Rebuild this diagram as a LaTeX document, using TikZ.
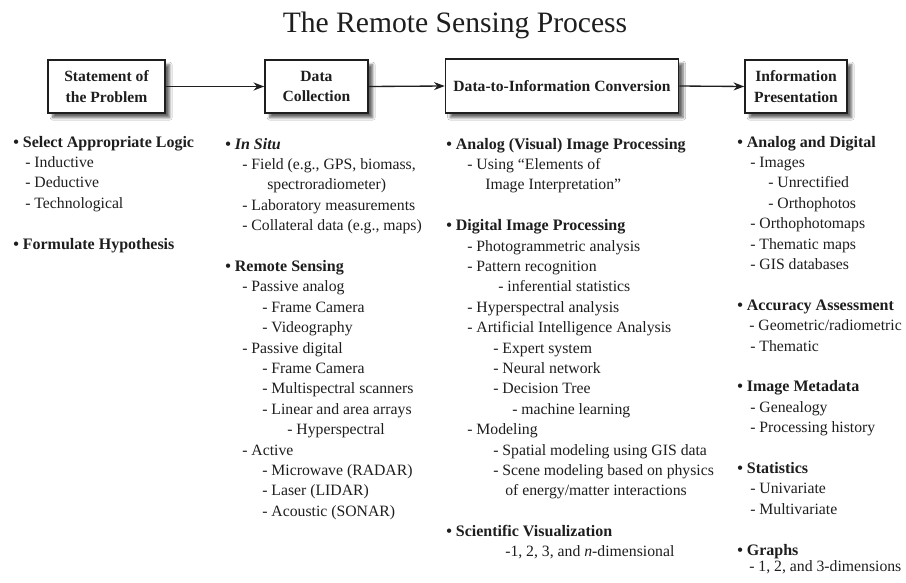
\documentclass[tikz,border=0pt]{standalone}
\usepackage{fontspec}
\setmainfont{Liberation Serif}
\usetikzlibrary{arrows.meta,positioning,shadows.blur}

\definecolor{ink}{HTML}{1E1E1E}

\tikzset{
  stage/.style={draw=ink, line width=1.2pt, fill=white, align=center, text=ink,
    font=\fontsize{11.7}{15.5}\selectfont\bfseries,
    blur shadow={shadow xshift=3.5pt, shadow yshift=-3.5pt, shadow blur steps=8, shadow opacity=60}},
  flow/.style={-{Stealth[length=8pt,width=6pt]}, line width=1pt, ink},
  head/.style={anchor=base west, inner sep=0pt, text=ink, font=\fontsize{12}{15.3}\selectfont\bfseries},
  item/.style={anchor=base west, inner sep=0pt, text=ink, font=\fontsize{11.8}{15.3}\selectfont},
}

\begin{document}
\begin{tikzpicture}[x=0.75pt, y=-0.75pt]

    \useasboundingbox[fill=white] (0,0) rectangle (906,582);

    % Title
    \node[anchor=base, inner sep=0pt, text=ink, font=\fontsize{22.2}{26}\selectfont] (title) at (455,32) {The Remote Sensing Process};

    % Draw the four stages of the process
    \node[stage, minimum width=87.75pt, minimum height=39.75pt] (problem) at (106.5,86.5) {Statement of\\the Problem};
    \node[stage, minimum width=77.25pt, minimum height=39.75pt] (collect) at (316.5,86.5) {Data\\Collection};
    \node[stage, minimum width=174.75pt, minimum height=40.5pt] (convert) at (562,86) {Data-to-Information Conversion};
    \node[stage, minimum width=76.5pt, minimum height=39.75pt] (present) at (796,86.5) {Information\\Presentation};
    % Draw arrows from one stage to the next
    \draw[flow] (problem.east) -- (collect.west);
    \draw[flow] (collect.east) -- (convert.west);
    \draw[flow] (convert.east) -- (present.west);

    % Column 1: statement of the problem
    \node[head] (logic) at (13,147) {\textbullet\ Select Appropriate Logic};
    \node[item] (inductive) at (25,167.4) {- Inductive};
    \node[item] (deductive) at (25,187.8) {- Deductive};
    \node[item] (technological) at (25,208.2) {- Technological};
    \node[head] (hypothesis) at (13,249) {\textbullet\ Formulate Hypothesis};

    % Column 2: data collection
    \node[head] (insitu) at (225,149) {\textbullet\ \textit{In Situ}};
    \node[item] (field) at (242,169.4) {- Field (e.g., GPS, biomass,};
    \node[item] (field_b) at (267,189.8) {spectroradiometer)};
    \node[item] (lab) at (242,210.2) {- Laboratory measurements};
    \node[item] (collateral) at (242,230.6) {- Collateral data (e.g., maps)};
    \node[head] (remote) at (225,271.4) {\textbullet\ Remote Sensing};
    \node[item] (pan) at (242,291.8) {- Passive analog};
    \node[item] (pan_frame) at (262,312.2) {- Frame Camera};
    \node[item] (pan_video) at (262,332.6) {- Videography};
    \node[item] (pdig) at (242,353) {- Passive digital};
    \node[item] (pdig_frame) at (262,373.4) {- Frame Camera};
    \node[item] (pdig_multi) at (262,393.8) {- Multispectral scanners};
    \node[item] (pdig_array) at (262,414.2) {- Linear and area arrays};
    \node[item] (pdig_hyper) at (287,434.6) {- Hyperspectral};
    \node[item] (active) at (242,455) {- Active};
    \node[item] (act_radar) at (262,475.4) {- Microwave (RADAR)};
    \node[item] (act_lidar) at (262,495.8) {- Laser (LIDAR)};
    \node[item] (act_sonar) at (262,516.2) {- Acoustic (SONAR)};

    % Column 3: data-to-information conversion
    \node[head] (analog) at (446,149) {\textbullet\ Analog (Visual) Image Processing};
    \node[item] (elements) at (467,169.4) {- Using “Elements of};
    \node[item] (elements_b) at (485,189.8) {Image Interpretation”};
    \node[head] (digital) at (446,230.6) {\textbullet\ Digital Image Processing};
    \node[item] (photogram) at (467,251) {- Photogrammetric analysis};
    \node[item] (pattern) at (467,271.4) {- Pattern recognition};
    \node[item] (inferential) at (498,291.8) {- inferential statistics};
    \node[item] (hyperspec) at (467,312.2) {- Hyperspectral analysis};
    \node[item] (ai) at (467,332.6) {- Artificial Intelligence Analysis};
    \node[item] (ai_expert) at (493,353) {- Expert system};
    \node[item] (ai_neural) at (493,373.4) {- Neural network};
    \node[item] (ai_tree) at (493,393.8) {- Decision Tree};
    \node[item] (ai_learn) at (512,414.2) {- machine learning};
    \node[item] (modeling) at (467,434.6) {- Modeling};
    \node[item] (mod_spatial) at (493,455) {- Spatial modeling using GIS data};
    \node[item] (mod_scene) at (493,475.4) {- Scene modeling based on physics};
    \node[item] (mod_scene_b) at (505,495.8) {of energy/matter interactions};
    \node[head] (sciviz) at (446,536.6) {\textbullet\ Scientific Visualization};
    \node[item] (sciviz_dim) at (505,556) {-1, 2, 3, and \textit{n}-dimensional};

    % Column 4: information presentation
    \node[head] (andig) at (737,147) {\textbullet\ Analog and Digital};
    \node[item] (images) at (750,167.4) {- Images};
    \node[item] (img_unrect) at (768,187.8) {- Unrectified};
    \node[item] (img_ortho) at (768,208.2) {- Orthophotos};
    \node[item] (orthomaps) at (750,228.6) {- Orthophotomaps};
    \node[item] (thematic) at (750,249) {- Thematic maps};
    \node[item] (gisdb) at (750,269.4) {- GIS databases};
    \node[head] (accuracy) at (737,310.2) {\textbullet\ Accuracy Assessment};
    \node[item] (acc_geo) at (749,330.6) {- Geometric/radiometric};
    \node[item] (acc_them) at (750,351) {- Thematic};
    \node[head] (metadata) at (737,391.8) {\textbullet\ Image Metadata};
    \node[item] (genealogy) at (750,412.2) {- Genealogy};
    \node[item] (history) at (750,432.6) {- Processing history};
    \node[head] (stats) at (737,473.4) {\textbullet\ Statistics};
    \node[item] (univariate) at (750,493.8) {- Univariate};
    \node[item] (multivariate) at (750,514.2) {- Multivariate};
    \node[head] (graphs) at (737,555) {\textbullet\ Graphs};
    \node[item] (graph_dims) at (749,571) {- 1, 2, and 3-dimensions};

\end{tikzpicture}
\end{document}
